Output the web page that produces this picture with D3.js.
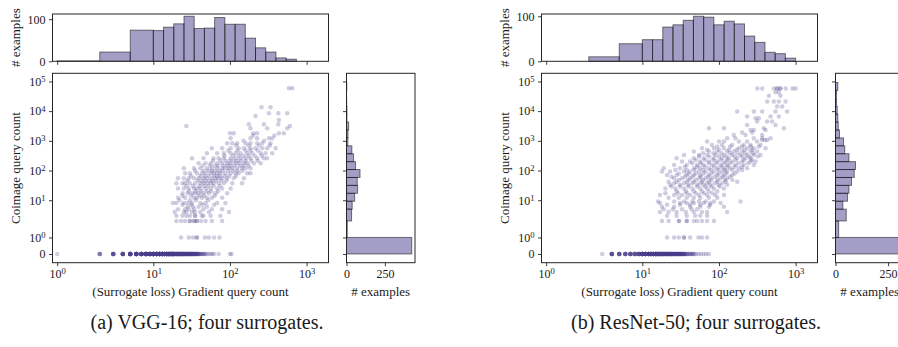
<!DOCTYPE html>
<html><head><meta charset="utf-8">
<script src="https://cdn.jsdelivr.net/npm/d3@7"></script>
<style>
body{margin:0;background:#fff}
svg{display:block}
text{font-family:"Liberation Serif","Times New Roman",serif;fill:#1a1a1a}
</style>
</head><body>
<svg id="chart" width="898" height="347"></svg>
<script>
// ---------------- DATA ----------------
const captions = ["(a) VGG-16; four surrogates.", "(b) ResNet-50; four surrogates."];
const xLabel = "(Surrogate loss) Gradient query count";
const yLabel = "Coimage query count";
const histLabel = "# examples";

const xTicks = [1, 10, 100, 1000];
const yTicks = [0, 1, 10, 100, 1000, 10000, 100000];
const topHistTicks = [0, 100];
const sideHistTicks = [0, 250];

// gradient-query histogram bin edges (top)
const topEdges = [1, 2, 5, 10, 13.59, 18.48, 25.12, 34.15, 46.42, 63.1, 85.77, 116.6, 158.5, 215.4, 292.9, 398.1, 541.2, 735.6, 1000];
const vggTopCounts = [1, 22, 74, 73, 81, 89, 107, 78, 79, 104, 88, 88, 55, 32, 22, 8, 5, 0];
const resTopCounts = [0, 10, 39, 48, 48, 76, 81, 91, 100, 98, 81, 89, 83, 56, 42, 20, 17, 7];

// image-query histogram bin edges (side)
const sideEdges = [0, 1, 2, 5, 9.24, 17.1, 31.6, 58.3, 108, 199, 368, 680, 1256, 2321, 4289, 7926, 14650, 27060, 50010, 92400];
const vggSideCounts = [425, 5, 33, 37, 53, 72, 70, 88, 59, 46, 35, 9, 10, 14, 3, 3, 1, 0, 2];
const resSideCounts = [310, 15, 51, 35, 57, 64, 76, 89, 95, 64, 44, 38, 19, 13, 11, 8, 5, 5, 11];

// examples with zero image queries: [gradient queries, number of examples]
const vggZeroRow = [[1,1],[2,4],[3,8],[4,10],[5,14],[6,15],[7,15],[8,15],[9,15],[10,18],[11,18],[12,18],[13,19],[14,16],[15,16],[16,15],[17,14],[18,14],[19,10],[20,9],[21,9],[22,8],[23,8],[24,8],[25,7],[26,6],[27,6],[28,6],[29,5],[30,5],[31,5],[32,4],[33,4],[34,4],[35,3],[36,3],[37,3],[38,3],[39,2],[40,2],[42,2],[44,2],[46,2],[48,1],[50,1],[53,1],[56,1],[59,1],[62,1],[71,1],[100,1],[105,1]];
const resZeroRow = [[3,1],[4,8],[5,7],[6,7],[7,8],[8,8],[9,9],[10,14],[11,14],[12,14],[13,14],[14,12],[15,12],[16,11],[17,10],[18,9],[19,8],[20,8],[21,8],[22,7],[23,7],[24,7],[25,6],[26,5],[27,5],[28,5],[29,4],[30,4],[31,4],[32,4],[33,3],[34,3],[35,3],[36,3],[38,3],[40,2],[42,2],[44,2],[46,2],[48,1],[50,1],[54,1],[58,1],[63,1],[68,1],[74,1]];

// examples with image queries: [image queries, [gradient queries ...]]
const vggRows = [
 [1,[23,29,33,37,37,47,53,62,73]],
 [2,[20,23,26,30,30,34,34,37,37,42,48,58,79]],
 [3,[20,24,27,30,35,35,43,45,56,75]],
 [4,[19,25,27,32,35,41,53,97]],
 [5,[21,26,29,34,45,58,79]],
 [6,[28,33,39,50]],
 [7,[24,31,44,62]],
 [8,[18,20,25,28,32,41,48,68,87]],
 [10,[22,30,36,52]],
 [12,[21,26,34,37,43,50,58,79]],
 [14,[24,31,40,46,63]],
 [17,[24,28,32,35,39,45,53,65,92]],
 [20,[29,36,42,50,57,70]],
 [25,[21,25,29,34,37,41,48,56,68,79,102]],
 [30,[27,33,40,46,52,61,74]],
 [37,[20,24,26,30,35,41,45,50,56,61,71,83,107,144]],
 [45,[28,38,43,48,54,59,66,77,90]],
 [55,[21,25,29,34,39,45,50,58,65,71,79,92,112,152]],
 [66,[31,41,47,53,62,68,75,86,98,120]],
 [81,[26,30,37,43,48,56,61,68,75,87,102,118,130,168,185]],
 [98,[35,45,52,58,64,72,80,95,110,125,145]],
 [119,[25,34,41,50,58,68,79,87,97,107,124,144,160,185]],
 [145,[44,55,63,70,82,92,102,115,135,150,175]],
 [176,[39,48,56,68,79,92,102,118,130,152,168,205,251]],
 [215,[60,75,88,100,112,125,140,160,190,230]],
 [259,[32,45,61,71,83,102,118,137,160,185,226,277,306]],
 [315,[85,110,130,150,175,210,260]],
 [382,[50,68,83,102,118,137,168,195,251,291,356]],
 [470,[95,125,160,185,230]],
 [562,[58,79,102,130,152,185,215,264,306,394]],
 [690,[120,175,240,330]],
 [828,[92,107,124,160,185,226,264,338]],
 [1000,[150,280]],
 [1220,[102,185,226,322,356]],
 [1500,[200,380]],
 [1800,[100,112,201,226,435,505]],
 [2650,[185,306,559]],
 [3180,[27,606]],
 [3610,[176,277,427]],
 [5060,[435]],
 [6890,[215]],
 [8470,[322,427,559]],
 [13500,[258,338]],
 [59000,[588,650]]
];
const resRows = [
 [1,[21,26,30,35,35,42,54,60,70]],
 [2,[18,22,30,30,38,38,47,52,60,70,86]],
 [3,[21,28,38,49,57,70]],
 [4,[17,22,28,37,47,60,70,128]],
 [5,[19,25,33,44,52]],
 [6,[18,26,42,57,74,116]],
 [7,[21,31,42,57,77]],
 [8,[17,31,38,47,63,77,105]],
 [9,[16,26,35,45,55,67,86,191]],
 [12,[22,30,38,47,57,74,95]],
 [15,[17,26,33,42,55,70,90,116]],
 [17,[20,29,38,50,64,82]],
 [20,[28,37,47,60,74,95]],
 [25,[20,27,35,45,57,70,86,116]],
 [29,[24,31,40,52,66,80,102]],
 [33,[23,31,40,52,63,77,99,128]],
 [37,[26,35,45,57,70,88,110]],
 [42,[22,28,38,47,60,74,95,122,173]],
 [48,[30,40,50,62,78,96,120,150]],
 [55,[26,33,42,55,67,81,105,128]],
 [62,[24,36,45,58,72,90,112,140]],
 [71,[21,28,38,47,57,74,95,116,149]],
 [80,[30,40,50,63,80,100,125,160]],
 [92,[18,23,35,42,55,67,86,110,128,173]],
 [105,[27,38,48,62,78,98,120,150,200]],
 [119,[19,31,47,57,74,95,116,141,182,233]],
 [135,[36,52,66,86,108,130,160,200]],
 [154,[26,38,52,63,82,105,128,164,211,285]],
 [175,[45,58,74,92,115,140,180,240]],
 [200,[33,42,57,74,95,122,149,201,258,300]],
 [228,[50,66,84,105,130,165,210,270]],
 [259,[28,47,63,86,110,134,173,222,258]],
 [295,[55,75,100,125,160,200,250,320]],
 [335,[35,55,70,90,116,149,191,233,285,348]],
 [380,[62,85,108,140,175,220,280]],
 [434,[47,74,95,128,156,201,258,315]],
 [500,[70,100,135,170,215,270]],
 [562,[60,86,116,182,233,285,405]],
 [640,[95,140,200,260,330]],
 [728,[81,110,149,211,258,348]],
 [944,[70,100,116,182,233,315]],
 [1070,[366,400,426]],
 [1220,[128,164,285,366,471]],
 [1585,[156,222,366]],
 [1900,[201,271]],
 [2330,[258,285,405]],
 [2650,[74,116,385,703]],
 [3430,[233,547]],
 [4450,[315,426,495]],
 [5750,[300,331]],
 [6550,[233,471,604]],
 [9660,[173,285,366,547,776]],
 [14200,[575,668]],
 [21000,[426,520,604,739]],
 [33000,[448,635]],
 [43000,[547,604]],
 [57500,[316,367,522,575,575,632,632,741,912,997]]
];

// ---------------- RENDER ----------------
const svg = d3.select("#chart");
const LINTHRESH = 2, LINSCALE_ADJ = 1 / (1 - 1 / 10);
// symmetric-log transform (linthresh 2, linscale 1)
const T = v => Math.abs(v) <= LINTHRESH ? v * LINSCALE_ADJ
  : Math.sign(v) * LINTHRESH * (LINSCALE_ADJ + Math.log10(Math.abs(v) / LINTHRESH));
const xLim = [0.89, 1930], yLim = [-0.53, 188000];

const G = {L: 52.5, R: 328.5, topY0: 14, topY1: 61.3, scY0: 73.3, scY1: 262.7, sideX0: 346.5, sideX1: 415};
const PURPLE = "72,61,139";
const SPINE = "#262626";

function supLabel(sel, v) {
  sel.text(null);
  if (v === 0) { sel.text("0"); return; }
  const e = Math.round(Math.log10(v));
  sel.append("tspan").text("10");
  sel.append("tspan").attr("dy", "-0.45em").attr("font-size", "0.72em").text(e);
}
function styleAxis(g) {
  g.select(".domain").remove();
  g.attr("font-family", null).attr("font-size", 12);
  g.selectAll(".tick line").attr("stroke", SPINE).attr("stroke-width", 0.9);
  g.selectAll(".tick text").attr("fill", "#1a1a1a");
}
function frame(g, x0, y0, x1, y1) {
  g.append("rect").attr("x", x0).attr("y", y0).attr("width", x1 - x0).attr("height", y1 - y0)
    .attr("fill", "none").attr("stroke", SPINE).attr("stroke-width", 1);
}

function panel(dx, topCounts, sideCounts, zeroRow, rows, caption) {
  const g = svg.append("g");
  const L = G.L + dx, R = G.R + dx, sx0 = G.sideX0 + dx, sx1 = G.sideX1 + dx;
  const x = d3.scaleLinear().domain([T(xLim[0]), T(xLim[1])]).range([L, R]);
  const y = d3.scaleLinear().domain([T(yLim[0]), T(yLim[1])]).range([G.scY1, G.scY0]);
  const topMax = d3.max(topCounts) * 1.05;
  const yTop = d3.scaleLinear().domain([0, topMax]).range([G.topY1, G.topY0]);
  const sideMax = d3.max(sideCounts) * 1.05;
  const xSide = d3.scaleLinear().domain([0, sideMax]).range([sx0, sx1]);

  const cid = "clip" + dx;
  g.append("defs").append("clipPath").attr("id", cid).append("rect")
    .attr("x", L).attr("y", G.scY0).attr("width", R - L).attr("height", G.scY1 - G.scY0);

  // top histogram
  const topBins = topCounts.map((c, i) => ({x0: topEdges[i], x1: topEdges[i + 1], c})).filter(d => d.c > 0);
  g.append("g").selectAll("rect").data(topBins).join("rect")
    .attr("x", d => x(T(d.x0))).attr("width", d => x(T(d.x1)) - x(T(d.x0)))
    .attr("y", d => yTop(d.c)).attr("height", d => yTop(0) - yTop(d.c))
    .attr("fill", `rgba(${PURPLE},0.5)`).attr("stroke", "rgba(0,0,0,0.5)").attr("stroke-width", 1);

  // side histogram
  const sideBins = sideCounts.map((c, i) => ({y0: sideEdges[i], y1: sideEdges[i + 1], c})).filter(d => d.c > 0);
  g.append("g").selectAll("rect").data(sideBins).join("rect")
    .attr("y", d => y(T(d.y1))).attr("height", d => y(T(d.y0)) - y(T(d.y1)))
    .attr("x", sx0).attr("width", d => xSide(d.c) - sx0)
    .attr("fill", `rgba(${PURPLE},0.5)`).attr("stroke", "rgba(0,0,0,0.5)").attr("stroke-width", 1);

  // scatter points
  const pts = [];
  zeroRow.forEach(([gx, n]) => { for (let k = 0; k < n; k++) pts.push([gx, 0]); });
  rows.forEach(([iy, xs]) => xs.forEach(gx => pts.push([gx, iy])));
  g.append("g").attr("clip-path", `url(#${cid})`).selectAll("circle").data(pts).join("circle")
    .attr("cx", d => x(T(d[0]))).attr("cy", d => y(T(d[1]))).attr("r", 2.25)
    .attr("fill", `rgba(${PURPLE},0.26)`);

  // frames
  frame(g, L, G.topY0, R, G.topY1);
  frame(g, L, G.scY0, R, G.scY1);
  frame(g, sx0, G.scY0, sx1 + (dx > 0 ? 40 : 0), G.scY1);

  // scatter axes
  const ax = g.append("g").attr("transform", `translate(0,${G.scY1})`)
    .call(d3.axisBottom(x).tickValues(xTicks.map(T)).tickSize(3.5).tickPadding(3.5).tickSizeOuter(0));
  styleAxis(ax);
  ax.selectAll(".tick text").each(function(d, i) { supLabel(d3.select(this), xTicks[i]); });

  const ay = g.append("g").attr("transform", `translate(${L},0)`)
    .call(d3.axisLeft(y).tickValues(yTicks.map(T)).tickSize(3.5).tickPadding(3.5).tickSizeOuter(0));
  styleAxis(ay);
  ay.selectAll(".tick text").each(function(d, i) { supLabel(d3.select(this), yTicks[i]); });

  // top hist axes
  const atx = g.append("g").attr("transform", `translate(0,${G.topY1})`)
    .call(d3.axisBottom(x).tickValues(xTicks.map(T)).tickSize(3.5).tickSizeOuter(0).tickFormat(""));
  styleAxis(atx);
  const aty = g.append("g").attr("transform", `translate(${L},0)`)
    .call(d3.axisLeft(yTop).tickValues(topHistTicks).tickSize(3.5).tickPadding(3.5).tickSizeOuter(0));
  styleAxis(aty);

  // side hist axes
  const asy = g.append("g").attr("transform", `translate(${sx0},0)`)
    .call(d3.axisLeft(y).tickValues(yTicks.map(T)).tickSize(3.5).tickSizeOuter(0).tickFormat(""));
  styleAxis(asy);
  const asx = g.append("g").attr("transform", `translate(0,${G.scY1})`)
    .call(d3.axisBottom(xSide).tickValues(sideHistTicks).tickSize(3.5).tickPadding(3.5).tickSizeOuter(0));
  styleAxis(asx);

  // labels
  g.append("text").attr("x", (L + R) / 2).attr("y", 296).attr("text-anchor", "middle")
    .attr("font-size", 13).text(xLabel);
  g.append("text").attr("x", (sx0 + sx1) / 2).attr("y", 296).attr("text-anchor", "middle")
    .attr("font-size", 13).text(histLabel);
  g.append("text").attr("transform", `translate(${19.5 + dx},${(G.scY0 + G.scY1) / 2}) rotate(-90)`)
    .attr("text-anchor", "middle").attr("font-size", 13).text(yLabel);
  g.append("text").attr("transform", `translate(${19.5 + dx},${(G.topY0 + G.topY1) / 2}) rotate(-90)`)
    .attr("text-anchor", "middle").attr("font-size", 13).text(histLabel);

  // caption
  g.append("text").attr("x", 207 + dx).attr("y", 329).attr("text-anchor", "middle")
    .attr("font-size", 20).attr("fill", "#000").text(caption);
}

panel(0, vggTopCounts, vggSideCounts, vggZeroRow, vggRows, captions[0]);
panel(489, resTopCounts, resSideCounts, resZeroRow, resRows, captions[1]);
</script>
</body></html>
